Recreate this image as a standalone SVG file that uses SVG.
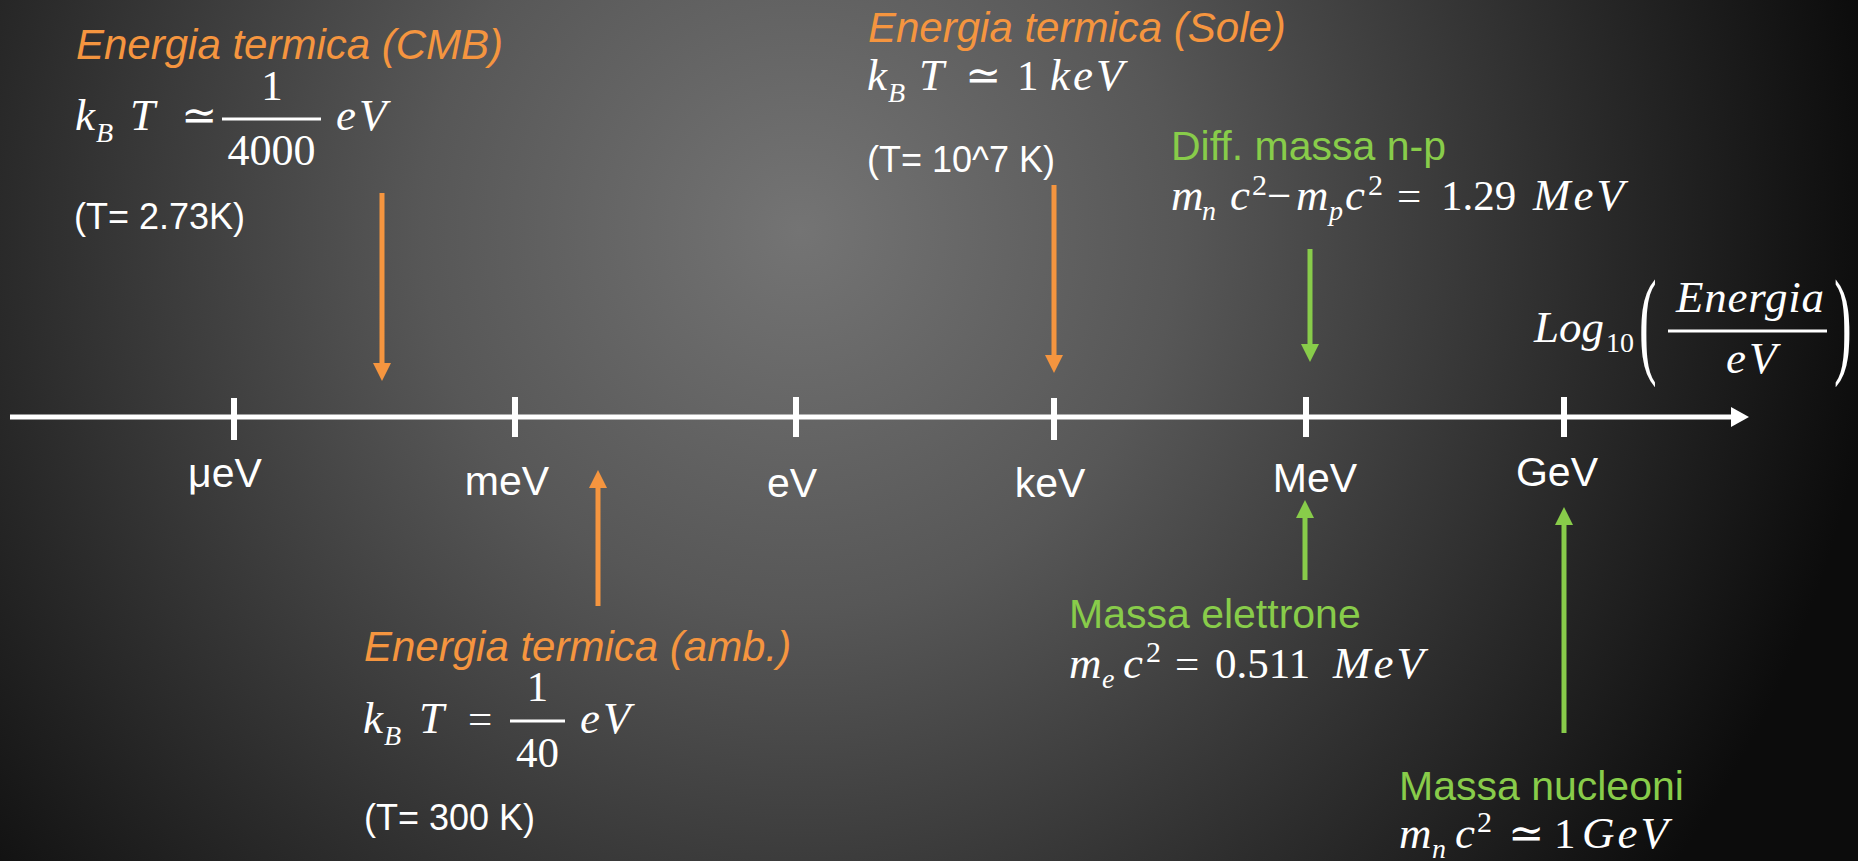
<svg xmlns="http://www.w3.org/2000/svg" width="1858" height="861" viewBox="0 0 1858 861">
<defs>
<radialGradient id="bg" gradientUnits="userSpaceOnUse" cx="800" cy="230" r="1080">
<stop offset="0" stop-color="#747474"/>
<stop offset="0.35" stop-color="#575757"/>
<stop offset="0.72" stop-color="#2c2c2c"/>
<stop offset="1" stop-color="#0c0c0c"/>
</radialGradient>
<marker id="hOr" viewBox="0 0 18 18" refX="0" refY="9" markerWidth="18" markerHeight="18" markerUnits="userSpaceOnUse" orient="auto"><path d="M0,0 L18,9 L0,18 z" fill="#F5953F"/></marker>
<marker id="hGr" viewBox="0 0 18 18" refX="0" refY="9" markerWidth="18" markerHeight="18" markerUnits="userSpaceOnUse" orient="auto"><path d="M0,0 L18,9 L0,18 z" fill="#88CC4A"/></marker>
<marker id="hW" viewBox="0 0 18 20" refX="0" refY="10" markerWidth="18" markerHeight="20" markerUnits="userSpaceOnUse" orient="auto"><path d="M0,0 L18,10 L0,20 z" fill="#ffffff"/></marker>
</defs>
<style>
.sans{font-family:"Liberation Sans",Arial,sans-serif;}
.lab{font-family:"Liberation Sans",Arial,sans-serif;font-size:41px;fill:#ffffff;text-anchor:middle;}
.or{fill:#F5953F;font-style:italic;font-size:42px;}
.gr{fill:#88CC4A;font-size:41px;}
.wt{fill:#ffffff;font-size:36px;}
.m{font-family:"Liberation Serif","Times New Roman","DejaVu Serif",serif;font-size:43px;fill:#ffffff;}
.i{font-style:italic;font-size:45px;}
.w{letter-spacing:3px;}
.sb{font-size:28px;}
.sp{font-size:30px;}
.ca{text-anchor:middle;}
.fr{fill:#ffffff;}
.ax{stroke:#ffffff;stroke-width:5;fill:none;}
.tk{stroke:#ffffff;stroke-width:6;}
.ao{stroke:#F5953F;stroke-width:5;fill:none;marker-end:url(#hOr);}
.ag{stroke:#88CC4A;stroke-width:5;fill:none;marker-end:url(#hGr);}
</style>
<rect x="0" y="0" width="1858" height="861" fill="url(#bg)"/>

<g id="axis">
<line class="ax" x1="10" y1="417" x2="1731" y2="417" marker-end="url(#hW)"/>
<line class="tk" x1="234" y1="398" x2="234" y2="440"/>
<line class="tk" x1="515" y1="397" x2="515" y2="437"/>
<line class="tk" x1="796" y1="397" x2="796" y2="437"/>
<line class="tk" x1="1054" y1="398" x2="1054" y2="440"/>
<line class="tk" x1="1306" y1="397" x2="1306" y2="437"/>
<line class="tk" x1="1564" y1="397" x2="1564" y2="437"/>
<text class="lab" x="225" y="487">μeV</text>
<text class="lab" x="507" y="495">meV</text>
<text class="lab" x="792" y="497">eV</text>
<text class="lab" x="1050" y="497">keV</text>
<text class="lab" x="1315" y="492">MeV</text>
<text class="lab" x="1557" y="486">GeV</text>
</g>

<g id="axis-title" class="m">
<text class="i" x="1534" y="342">Log</text>
<text class="sb" x="1606" y="352">10</text>
<text transform="translate(1639,362) scale(0.45,1)" style="font-size:118px">(</text>
<text class="i" x="1676" y="312" textLength="148" lengthAdjust="spacing">Energia</text>
<rect class="fr" x="1668" y="329.5" width="159" height="3"/>
<text class="i w" x="1726" y="373">eV</text>
<text transform="translate(1834,362) scale(0.45,1)" style="font-size:118px">)</text>
</g>

<g id="cmb">
<text class="sans or" x="76" y="59">Energia termica (CMB)</text>
<g class="m">
<text class="i" x="75" y="130">k</text>
<text class="i sb" x="96" y="142">B</text>
<text class="i" x="130" y="130">T</text>
<text x="181" y="130">≃</text>
<rect class="fr" x="222" y="117.5" width="99" height="3"/>
<text class="ca" x="272" y="100">1</text>
<text class="ca" x="271.5" y="165" style="font-size:44px">4000</text>
<text class="i w" x="336" y="130">eV</text>
</g>
<text class="sans wt" x="74" y="229">(T= 2.73K)</text>
</g>

<g id="sole">
<text class="sans or" x="868" y="42">Energia termica (Sole)</text>
<g class="m">
<text class="i" x="867" y="90">k</text>
<text class="i sb" x="888" y="102">B</text>
<text class="i" x="919" y="90">T</text>
<text x="965" y="90">≃</text>
<text x="1017" y="90">1</text>
<text class="i w" x="1050" y="90">keV</text>
</g>
<text class="sans wt" x="867" y="172">(T= 10^7 K)</text>
</g>

<g id="amb">
<text class="sans or" x="364" y="661">Energia termica (amb.)</text>
<g class="m">
<text class="i" x="363" y="733">k</text>
<text class="i sb" x="384" y="745">B</text>
<text class="i" x="419" y="733">T</text>
<text x="468" y="733">=</text>
<rect class="fr" x="510" y="719.5" width="55" height="3"/>
<text class="ca" x="537.5" y="701">1</text>
<text class="ca" x="537.5" y="767">40</text>
<text class="i w" x="580" y="733">eV</text>
</g>
<text class="sans wt" x="364" y="830">(T= 300 K)</text>
</g>

<g id="np">
<text class="sans gr" x="1171" y="160">Diff. massa n-p</text>
<g class="m">
<text class="i" x="1171" y="210">m</text>
<text class="i sb" x="1202" y="220">n</text>
<text class="i" x="1230" y="210">c</text>
<text class="sp" x="1252" y="195">2</text>
<text x="1267" y="210">−</text>
<text class="i" x="1296" y="210">m</text>
<text class="i sb" x="1329" y="220">p</text>
<text class="i" x="1345" y="210">c</text>
<text class="sp" x="1368" y="195">2</text>
<text x="1397" y="210">=</text>
<text x="1441" y="210">1.29</text>
<text class="i w" x="1533" y="210">MeV</text>
</g>
</g>

<g id="elettrone">
<text class="sans gr" x="1069" y="628">Massa elettrone</text>
<g class="m">
<text class="i" x="1069" y="678">m</text>
<text class="i sb" x="1102" y="688">e</text>
<text class="i" x="1123" y="678">c</text>
<text class="sp" x="1146" y="662">2</text>
<text x="1175" y="678">=</text>
<text x="1215" y="678">0.511</text>
<text class="i w" x="1333" y="678">MeV</text>
</g>
</g>

<g id="nucleoni">
<text class="sans gr" x="1399" y="800">Massa nucleoni</text>
<g class="m">
<text class="i" x="1399" y="848">m</text>
<text class="i sb" x="1432" y="858">n</text>
<text class="i" x="1455" y="848">c</text>
<text class="sp" x="1477" y="832">2</text>
<text x="1508" y="848">≃</text>
<text x="1554" y="848">1</text>
<text class="i w" x="1582" y="848">GeV</text>
</g>
</g>

<g id="connectors">
<line class="ao" x1="382" y1="193" x2="382" y2="363"/>
<line class="ao" x1="1054" y1="185" x2="1054" y2="355"/>
<line class="ao" x1="598" y1="606" x2="598" y2="488"/>
<line class="ag" x1="1310" y1="249" x2="1310" y2="344"/>
<line class="ag" x1="1305" y1="580" x2="1305" y2="518"/>
<line class="ag" x1="1564" y1="733" x2="1564" y2="525"/>
</g>
</svg>
